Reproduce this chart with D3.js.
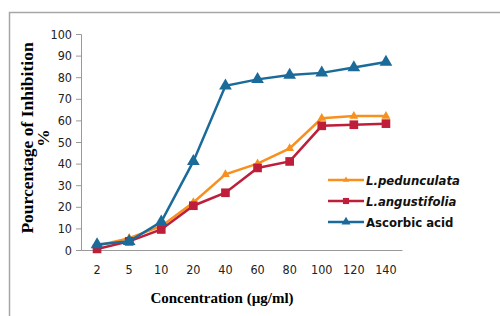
<!DOCTYPE html>
<html>
<head>
<meta charset="utf-8">
<script src="https://cdn.jsdelivr.net/npm/d3@7"></script>
<style>
  body { margin: 0; background: #fff; }
  svg { display: block; }
</style>
</head>
<body>
<svg></svg>
<script>
const width = 500;
const height = 316;

const concentrations = ["2", "5", "10", "20", "40", "60", "80", "100", "120", "140"];
const pedunculata = [2, 5.5, 11, 22, 35, 40, 47, 61, 62, 62];
const angustifolia = [0.5, 4, 9.5, 20.5, 26.5, 38, 41, 57.5, 58, 58.5];
const ascorbic = [2.5, 4, 13, 41, 76, 79, 81, 82, 84.5, 87];
const yTicks = [0, 10, 20, 30, 40, 50, 60, 70, 80, 90, 100];

const series = [
  { name: "L.pedunculata", values: pedunculata, color: "#F7901E", symbol: d3.symbolTriangle, size: 34, italic: true },
  { name: "L.angustifolia", values: angustifolia, color: "#BE1E3A", symbol: d3.symbolSquare, size: 75, italic: true },
  { name: "Ascorbic acid", values: ascorbic, color: "#1A6A9A", symbol: d3.symbolTriangle, size: 70, italic: false }
];

const margin = { left: 81, right: 98, top: 34, bottom: 66 };

const xScale = d3.scaleBand()
  .domain(concentrations)
  .range([margin.left, width - margin.right]);

const yScale = d3.scaleLinear()
  .domain([0, 100])
  .range([height - margin.bottom, margin.top]);

const svg = d3.select("svg")
  .attr("width", width)
  .attr("height", height);

// outer frame (only left and top edges visible)
svg.append("path")
  .attr("d", `M9.5,${height} V12.5 H${width}`)
  .attr("fill", "none")
  .attr("stroke", "#a6a6a6")
  .attr("stroke-width", 1.5);

const yAxis = svg.append("g")
  .attr("transform", `translate(${margin.left}, 0)`)
  .call(d3.axisLeft(yScale).tickValues(yTicks).tickSize(5).tickPadding(4));

const xAxis = svg.append("g")
  .attr("transform", `translate(0, ${height - margin.bottom})`)
  .call(d3.axisBottom(xScale).tickSize(0).tickPadding(15));

[xAxis, yAxis].forEach(a => {
  a.select(".domain").attr("stroke", "#999");
  a.selectAll(".tick line").attr("stroke", "#999");
  a.selectAll("text")
    .attr("fill", "#222")
    .style("font-family", "'DejaVu Sans Condensed', 'DejaVu Sans', sans-serif")
    .style("font-size", "12.5px");
});

svg.append("text")
  .attr("x", 222)
  .attr("y", 303)
  .style("text-anchor", "middle")
  .style("font-family", "'Liberation Serif', 'Times New Roman', serif")
  .style("font-weight", "bold")
  .style("font-size", "15px")
  .text("Concentration (µg/ml)");

const yTitle = svg.append("text")
  .attr("transform", "rotate(-90)")
  .style("text-anchor", "middle")
  .style("font-family", "'Liberation Serif', 'Times New Roman', serif")
  .style("font-weight", "bold")
  .style("font-size", "17.5px");
yTitle.append("tspan").attr("x", -138).attr("y", 33).text("Pourcentage of Inhibition");
yTitle.append("tspan").attr("x", -138).attr("y", 49).text("%");

const line = d3.line()
  .x((d, i) => xScale(concentrations[i]) + xScale.bandwidth() / 2)
  .y(d => yScale(d));

series.forEach(s => {
  const g = svg.append("g");
  g.append("path")
    .datum(s.values)
    .attr("fill", "none")
    .attr("stroke", s.color)
    .attr("stroke-width", 2.5)
    .attr("d", line);
  g.selectAll("path.mark")
    .data(s.values)
    .join("path")
      .classed("mark", true)
      .attr("transform", (d, i) => `translate(${xScale(concentrations[i]) + xScale.bandwidth() / 2}, ${yScale(d)})`)
      .attr("d", d3.symbol().type(s.symbol).size(s.size))
      .attr("fill", s.color);
});

// legend
const legend = svg.append("g")
  .attr("transform", "translate(328, 180)");

series.forEach((s, i) => {
  const row = legend.append("g").attr("transform", `translate(0, ${i * 21})`);
  row.append("line")
    .attr("x1", 0).attr("x2", 36)
    .attr("stroke", s.color)
    .attr("stroke-width", 2.5);
  row.append("path")
    .attr("transform", "translate(18, 0)")
    .attr("d", d3.symbol().type(s.symbol).size(s.size * 0.5))
    .attr("fill", s.color);
  row.append("text")
    .attr("x", 38)
    .attr("y", 0)
    .attr("dy", "0.35em")
    .style("font-family", "'DejaVu Sans Condensed', 'DejaVu Sans', sans-serif")
    .style("font-weight", "bold")
    .style("font-style", s.italic ? "italic" : "normal")
    .style("font-size", "13px")
    .attr("fill", "#111")
    .text(s.name);
});
</script>
</body>
</html>
